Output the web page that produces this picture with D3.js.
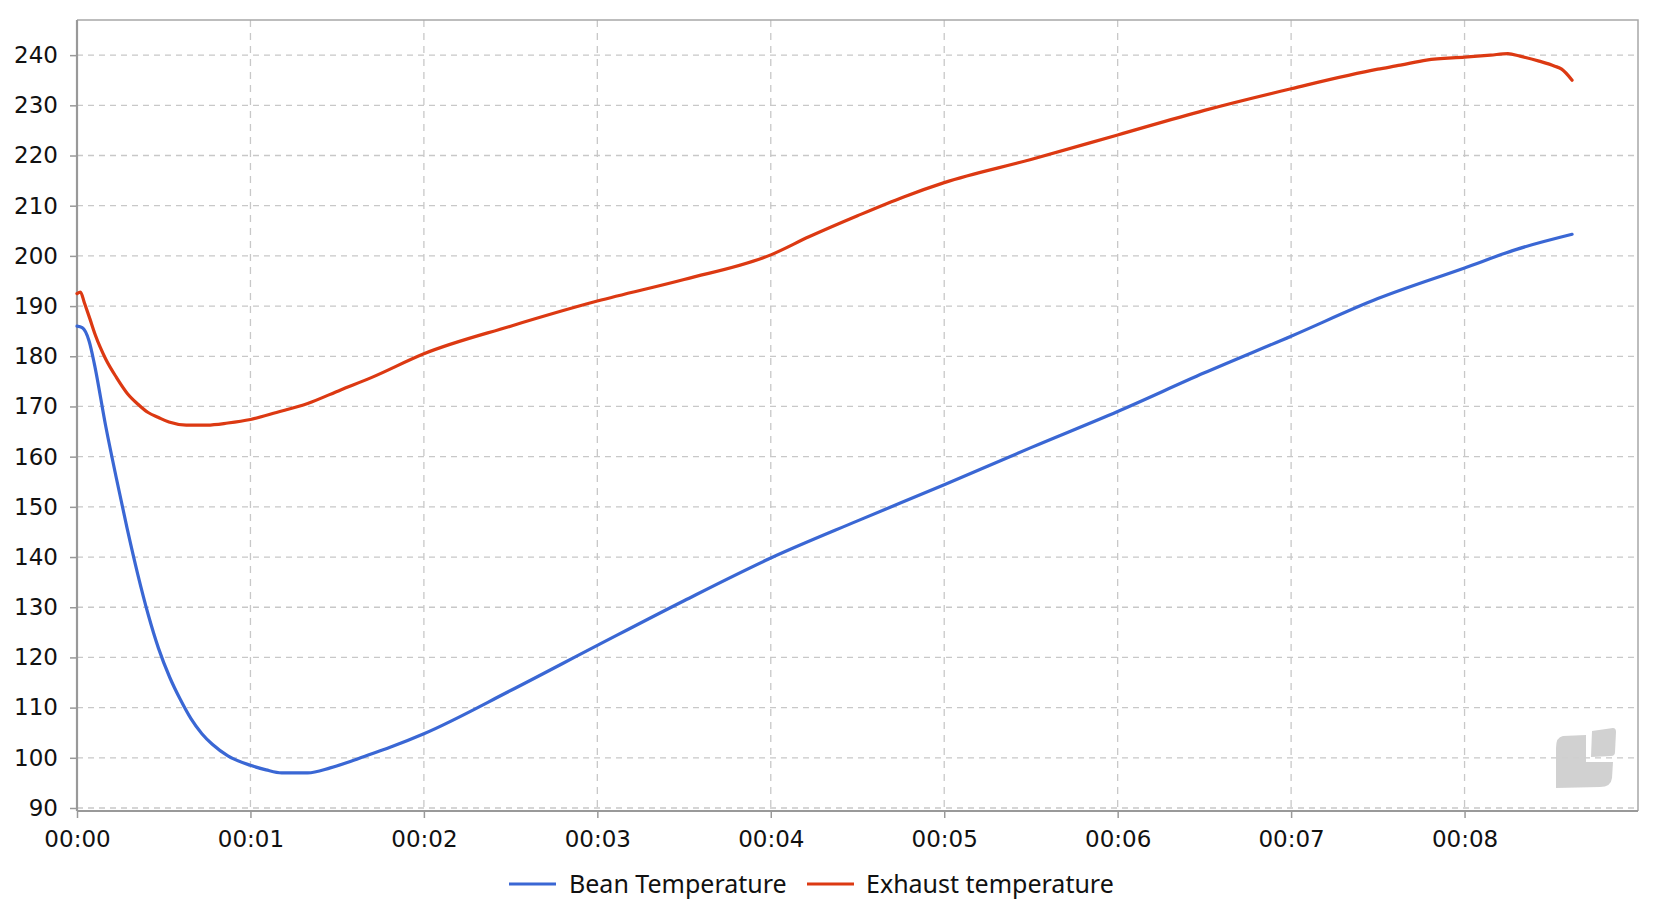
<!DOCTYPE html>
<html>
<head>
<meta charset="utf-8">
<script src="https://cdn.jsdelivr.net/npm/d3@7"></script>
<style>
  html, body { margin: 0; padding: 0; background: #fff; }
  svg { display: block; }
</style>
</head>
<body>
<svg id="chart" width="1670" height="906"></svg>
<script>
// ---- data (time in minutes, temperatures) ----
const beanTimes = [0, 0.03, 0.07, 0.1, 0.166, 0.227, 0.289, 0.35, 0.41, 0.47, 0.535, 0.596, 0.657, 0.72, 0.78, 0.87, 1.0, 1.09, 1.18, 1.33, 1.46, 1.58, 1.70, 1.82, 2.0, 2.5, 3.0, 3.5, 4.0, 4.5, 5.0, 5.5, 6.0, 6.5, 7.0, 7.5, 8.0, 8.3, 8.62];
const beanValues = [186, 185.7, 183, 178.5, 166, 155.7, 145.7, 136.6, 128.6, 121.8, 116, 111.6, 107.8, 104.8, 102.7, 100.4, 98.5, 97.6, 97, 97, 98, 99.3, 100.8, 102.3, 104.8, 113.4, 122.4, 131.3, 139.8, 147.2, 154.4, 161.8, 169, 176.7, 184, 191.5, 197.6, 201.3, 204.3];

const exhaustTimes = [0, 0.02, 0.043, 0.074, 0.105, 0.135, 0.166, 0.227, 0.29, 0.35, 0.41, 0.47, 0.53, 0.63, 0.75, 0.87, 1.0, 1.15, 1.33, 1.52, 1.70, 2.0, 2.5, 3.0, 3.5, 4.0, 4.22, 4.5, 4.77, 5.0, 5.5, 6.0, 6.5, 7.0, 7.5, 7.63, 7.78, 8.0, 8.15, 8.25, 8.32, 8.43, 8.52, 8.56, 8.62];
const exhaustValues = [192.5, 192.8, 190.6, 187.5, 184.3, 181.7, 179.4, 175.8, 172.6, 170.5, 168.8, 167.8, 166.9, 166.3, 166.3, 166.7, 167.4, 168.8, 170.6, 173.3, 175.8, 180.5, 186, 191, 195.3, 200.2, 203.8, 208, 211.8, 214.6, 219.2, 224.1, 229, 233.3, 237.2, 238, 239, 239.6, 240, 240.3, 239.8, 238.8, 237.8, 237.2, 235];

const seriesNames = ["Bean Temperature", "Exhaust temperature"];
const seriesColors = ["#3a67d4", "#dc3912"];
const xTickValues = [0, 1, 2, 3, 4, 5, 6, 7, 8];
const xTickLabels = ["00:00", "00:01", "00:02", "00:03", "00:04", "00:05", "00:06", "00:07", "00:08"];
const yTickValues = [90, 100, 110, 120, 130, 140, 150, 160, 170, 180, 190, 200, 210, 220, 230, 240];

// ---- layout ----
const pLeft = 77, pRight = 1638, pTop = 20, pBottom = 811;
const svg = d3.select("#chart");

const x = d3.scaleLinear().domain([0, 9]).range([pLeft, pRight]);
const y = d3.scaleLinear().domain([89.4, 247]).range([pBottom, pTop]);

// grid
const grid = svg.append("g");
grid.selectAll("line.h").data(yTickValues).join("line")
  .attr("x1", pLeft).attr("x2", pRight)
  .attr("y1", d => y(d)).attr("y2", d => y(d))
  .attr("stroke", "#c8c8c8").attr("stroke-width", 1.3)
  .attr("stroke-dasharray", "6,5");
grid.selectAll("line.v").data(xTickValues.slice(1)).join("line")
  .attr("x1", d => x(d)).attr("x2", d => x(d))
  .attr("y1", pTop).attr("y2", pBottom)
  .attr("stroke", "#c8c8c8").attr("stroke-width", 1.3)
  .attr("stroke-dasharray", "7,6");

// frame (top & right)
svg.append("path")
  .attr("d", `M${pLeft},${pTop}H${pRight}V${pBottom}`)
  .attr("fill", "none").attr("stroke", "#a8a8a8").attr("stroke-width", 1.5);

// watermark logo
const wm = svg.append("g").attr("fill", "#cfcfcf").attr("opacity", 0.95);
wm.append("path").attr("d",
  "M1563,736 L1586,735 L1586,762 L1613,762 L1612,778 Q1611,787 1600,787 L1556,788 L1556,748 Q1556,737 1563,736 Z");
wm.append("path").attr("d",
  "M1592,731 L1613,728 Q1616,728 1616,732 L1615,752 Q1615,756 1611,756 L1591,757 Z");

// axes
const yAxis = d3.axisLeft(y).tickValues(yTickValues).tickSize(7).tickPadding(12);
const gy = svg.append("g").attr("transform", `translate(${pLeft},0)`).call(yAxis);
const xAxis = d3.axisBottom(x).tickValues(xTickValues).tickSize(7).tickPadding(13)
  .tickFormat((d, i) => xTickLabels[i]);
const gx = svg.append("g").attr("transform", `translate(0,${pBottom})`).call(xAxis);

[gx, gy].forEach(g => {
  g.select(".domain").attr("stroke", "#999").attr("stroke-width", 2.2);
  g.selectAll(".tick line").attr("stroke", "#999").attr("stroke-width", 1.5);
  g.selectAll(".tick text").attr("fill", "#111")
    .style("font-family", "'DejaVu Sans', sans-serif").style("font-size", "23px");
});
gy.select(".domain").attr("d", `M0,${pBottom}V${pTop}`);
gx.select(".domain").attr("d", `M${pLeft},0H${pRight}`);

// lines
const line = d3.line().x(d => x(d[0])).y(d => y(d[1])).curve(d3.curveMonotoneX);
const series = [
  d3.zip(beanTimes, beanValues),
  d3.zip(exhaustTimes, exhaustValues)
];
svg.append("g").selectAll("path").data(series).join("path")
  .attr("d", line)
  .attr("fill", "none")
  .attr("stroke", (d, i) => seriesColors[i])
  .attr("stroke-width", 3.2)
  .attr("stroke-linejoin", "round")
  .attr("stroke-linecap", "round");

// legend
const legendItems = [
  { x1: 509, x2: 556, tx: 569 },
  { x1: 807, x2: 854, tx: 866 }
];
const lg = svg.append("g");
legendItems.forEach((it, i) => {
  lg.append("line").attr("x1", it.x1).attr("x2", it.x2).attr("y1", 884).attr("y2", 884)
    .attr("stroke", seriesColors[i]).attr("stroke-width", 3.2);
  lg.append("text").attr("x", it.tx).attr("y", 893)
    .style("font-family", "'Noto Sans', sans-serif").style("font-size", "25px")
    .attr("fill", "#111").text(seriesNames[i]);
});
</script>
</body>
</html>
